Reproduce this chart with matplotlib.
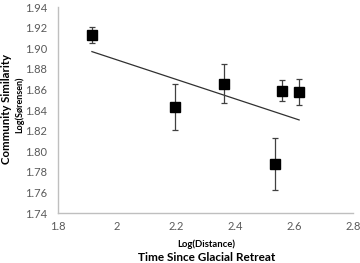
import matplotlib
matplotlib.use("Agg")
import matplotlib.pyplot as plt
import numpy as np

plt.rcParams['font.family'] = ['Lato', 'DejaVu Sans']

# values
log_distance = [1.915, 2.197, 2.364, 2.560, 2.617, 2.535]
log_sorensen = [1.913, 1.843, 1.8655, 1.859, 1.8575, 1.7876]
y_err = [0.008, 0.022, 0.019, 0.0105, 0.013, 0.025]
x_err = [0.0, 0.012, 0.0, 0.0, 0.0, 0.0]

x_ticks = [1.8, 2, 2.2, 2.4, 2.6, 2.8]
x_tick_labels = ['1.8', '2', '2.2', '2.4', '2.6', '2.8']
y_ticks = [1.74, 1.76, 1.78, 1.80, 1.82, 1.84, 1.86, 1.88, 1.90, 1.92, 1.94]

fig = plt.figure(figsize=(3.6, 2.63), dpi=100)
ax = fig.add_axes([0.161, 0.19, 0.82, 0.783])

ax.errorbar(log_distance, log_sorensen, yerr=y_err, xerr=x_err, fmt='s',
            color='black', markersize=6.5, ecolor='#404040', elinewidth=0.9,
            capsize=2, capthick=0.9, zorder=3)

# linear trend line
slope, intercept = np.polyfit(log_distance, log_sorensen, 1)
x_line = np.array([min(log_distance), max(log_distance)])
ax.plot(x_line, slope * x_line + intercept, color='#303030', lw=0.9, zorder=2)

ax.set_xlim(1.8, 2.8)
ax.set_ylim(1.74, 1.94)
ax.set_xticks(x_ticks)
ax.set_xticklabels(x_tick_labels)
ax.set_yticks(y_ticks)
ax.set_yticklabels([f'{v:.2f}' for v in y_ticks])
ax.tick_params(axis='both', length=0, labelsize=8, colors='#595959')
ax.tick_params(axis='x', pad=6)
ax.tick_params(axis='y', pad=8)
for s in ['top', 'right']:
    ax.spines[s].set_visible(False)
for s in ['left', 'bottom']:
    ax.spines[s].set_color('#bfbfbf')
    ax.spines[s].set_linewidth(1.0)

fig.text(0.019, 0.585, 'Community Similarity', rotation=90, fontsize=8.2,
         fontweight='bold', ha='center', va='center')
fig.text(0.055, 0.6, 'Log(Sørensen)', rotation=90, fontsize=6.5,
         fontweight='bold', ha='center', va='center')
fig.text(0.572, 0.072, 'Log(Distance)', fontsize=6.8, fontweight='bold',
         ha='center', va='center')
fig.text(0.575, 0.022, 'Time Since Glacial Retreat', fontsize=8.5,
         fontweight='bold', ha='center', va='center')

fig.savefig('out.png', dpi=100)
